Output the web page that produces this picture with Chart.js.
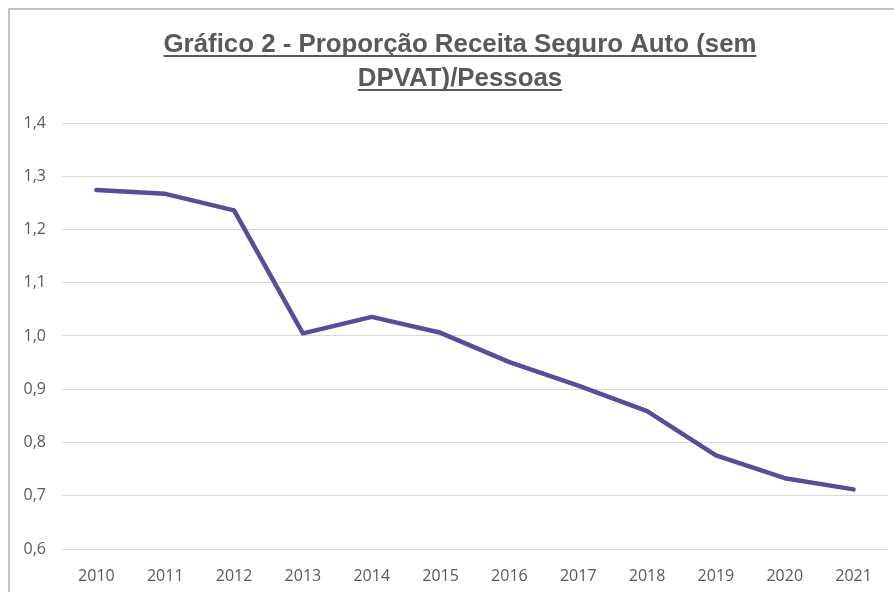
<!DOCTYPE html>
<html>
<head>
<meta charset="utf-8">
<script src="https://cdn.jsdelivr.net/npm/chart.js@4"></script>
<style>
  html, body { margin: 0; padding: 0; background: #fff; overflow: hidden; }
  #wrap { position: relative; width: 894px; height: 592px; }
</style>
</head>
<body>
<div id="wrap"><canvas id="chart" width="894" height="592"></canvas></div>
<script>
// data
const years = ['2010', '2011', '2012', '2013', '2014', '2015', '2016', '2017', '2018', '2019', '2020', '2021'];
const ratio = [1.274, 1.267, 1.236, 1.005, 1.036, 1.006, 0.951, 0.907, 0.859, 0.776, 0.733, 0.712];
const titleLines = ['Gráfico 2 - Proporção Receita Seguro Auto (sem', 'DPVAT)/Pessoas'];

const textGrey = '#595959';

// frame + underlined title, Excel style
const decorPlugin = {
    id: 'decor',
    afterDraw: (chart) => {
        const ctx = chart.ctx;
        ctx.save();

        // frame (left and top edges visible)
        ctx.strokeStyle = '#c4c4c4';
        ctx.lineWidth = 2;
        ctx.beginPath();
        ctx.moveTo(9, 600);
        ctx.lineTo(9, 9);
        ctx.lineTo(900, 9);
        ctx.stroke();

        // title: fit first line to the original width
        ctx.font = 'bold 25px "Liberation Sans", Arial, sans-serif';
        const w0 = ctx.measureText(titleLines[0]).width;
        const sx = 593 / w0;
        ctx.fillStyle = textGrey;
        ctx.strokeStyle = textGrey;
        ctx.textAlign = 'center';
        ctx.textBaseline = 'alphabetic';
        const cx = 460;
        const baselines = [52, 86];
        ctx.translate(cx, 0);
        ctx.scale(sx, 1);
        ctx.lineWidth = 2;
        titleLines.forEach((line, i) => {
            ctx.fillText(line, 0, baselines[i]);
            const w = ctx.measureText(line).width;
            ctx.beginPath();
            ctx.moveTo(-w / 2, baselines[i] + 4);
            ctx.lineTo(w / 2, baselines[i] + 4);
            ctx.stroke();
        });
        ctx.restore();
    }
};

const tickFont = { family: '"Open Sans", "Liberation Sans", sans-serif', size: 16 };

new Chart(document.getElementById('chart').getContext('2d'), {
    type: 'line',
    data: {
        labels: years,
        datasets: [{
            label: 'Proporção',
            data: ratio,
            borderColor: '#574d9f',
            backgroundColor: '#574d9f',
            borderWidth: 4.5,
            borderCapStyle: 'round',
            borderJoinStyle: 'round',
            pointRadius: 0,
            tension: 0,
            fill: false
        }]
    },
    options: {
        responsive: false,
        animation: false,
        layout: { padding: { left: 0, right: 6, top: 123, bottom: 0 } },
        scales: {
            x: {
                offset: true,
                grid: { display: false },
                border: { display: false },
                ticks: { color: textGrey, font: tickFont, padding: 10, maxRotation: 0 },
                afterFit: (scale) => { scale.height = 43; }
            },
            y: {
                min: 0.6,
                max: 1.4,
                grid: { color: '#d9d9d9', lineWidth: 1, drawTicks: false },
                border: { display: false },
                ticks: {
                    stepSize: 0.1,
                    color: textGrey,
                    font: tickFont,
                    padding: 16,
                    callback: (v) => v.toFixed(1).replace('.', ',')
                },
                afterFit: (scale) => { scale.width = 62; }
            }
        },
        plugins: {
            legend: { display: false },
            title: { display: false },
            tooltip: { enabled: false }
        }
    },
    plugins: [decorPlugin]
});
</script>
</body>
</html>
